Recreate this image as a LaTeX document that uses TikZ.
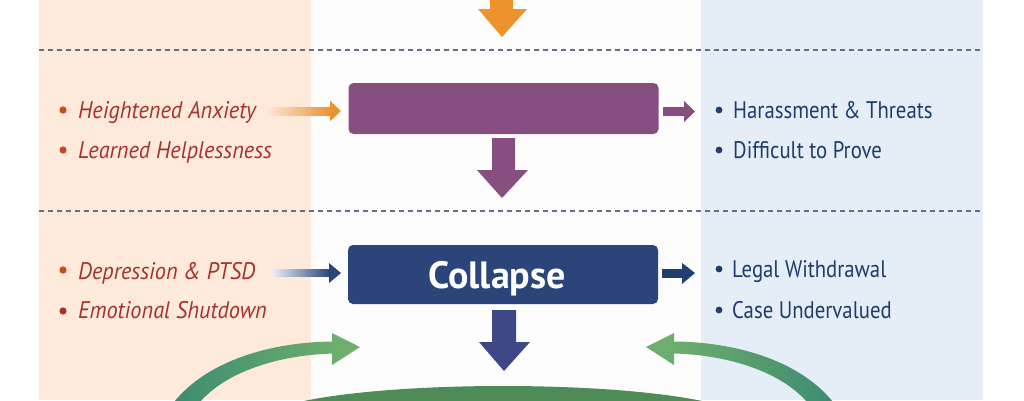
\documentclass[tikz,border=0pt]{standalone}
\usepackage{fontspec}
\setmainfont{PT Sans}
\newfontfamily\leftfont[FakeStretch=0.93]{PT Sans}
\newfontfamily\rightfont[FakeStretch=0.865]{PT Sans}
\usetikzlibrary{shapes.geometric}
\definecolor{peach}{HTML}{FDEADB}
\definecolor{paleblue}{HTML}{E5EDF6}
\definecolor{bgwhite}{HTML}{FDFDFD}
\definecolor{dashcol}{HTML}{5F7183}
\definecolor{orangeA}{HTML}{EE922E}
\definecolor{purpleA}{HTML}{874E80}
\definecolor{navyA}{HTML}{2B4479}
\definecolor{navyB}{HTML}{3E4886}
\definecolor{navyArrow}{HTML}{1F3F6E}
\definecolor{redtext}{HTML}{A8322A}
\definecolor{redbullet}{HTML}{C84A1C}
\definecolor{bluetext}{HTML}{1F3C6A}
\definecolor{greenDark}{HTML}{3C8C72}
\definecolor{greenLight}{HTML}{6DAD6D}
\definecolor{greenEll}{HTML}{4E8B57}
\begin{document}
\begin{tikzpicture}[x=1pt,y=-1pt,
  lefttext/.style={anchor=base west,inner sep=0pt,text=redtext,font=\leftfont\fontsize{24}{28}\selectfont\itshape},
  righttext/.style={anchor=base west,inner sep=0pt,text=bluetext,font=\rightfont\fontsize{24}{28}\selectfont},
  stagebox/.style={rounded corners=5pt,minimum width=310pt,inner sep=0pt,draw=none},
  sepline/.style={dashcol,line width=1.1pt,dash pattern=on 5pt off 4pt}]
\useasboundingbox (0,0) rectangle (1024,400);
\fill[white] (0,0) rectangle (1024,400);
\fill[bgwhite] (39,0) rectangle (983,400);
\fill[peach] (39,0) rectangle (311,400);
\fill[paleblue] (701,0) rectangle (983,400);
% separators
\draw[sepline] (39,50) -- (983,50);
\draw[sepline] (39,211) -- (983,211);
% top orange arrow
\fill[orangeA] (490,-2) -- (513,-2) -- (513,9) -- (527,9) -- (502,37) -- (478,9) -- (490,9) -- cycle;
% stage boxes
\node[stagebox,fill=purpleA,minimum height=51pt] (box1) at (503.5,108.5) {};
\node[stagebox,fill=navyA,minimum height=59pt,text=white,
  font=\fontsize{38}{42}\selectfont\bfseries,text height=27pt,text depth=0pt] (box2) at (503,274.5) {Collapse\hspace*{12pt}};
% down arrows
\fill[purpleA] (492,138) -- (515,138) -- (515,170) -- (528,170) -- (502,198) -- (477,170) -- (492,170) -- cycle;
\fill[navyB] (492,310) -- (516,310) -- (516,342) -- (530,342) -- (504,371) -- (479,342) -- (492,342) -- cycle;
% left texts row 1
\fill[redbullet] (63,110) circle (3.6pt);
\fill[redbullet] (63,150) circle (3.6pt);
\node[lefttext] (l1) at (78,118) {Heightened Anxiety};
\node[lefttext] (l2) at (78,158) {Learned Helplessness};
% left texts row 2
\fill[redbullet] (63,270) circle (3.6pt);
\fill[redtext] (63,311) circle (3.6pt);
\node[lefttext] (l3) at (78,279) {Depression \& PTSD};
\node[lefttext] (l4) at (78,318) {Emotional Shutdown};
% right texts
\fill[bluetext] (719,110) circle (3.4pt);
\fill[bluetext] (719,150) circle (3.4pt);
\node[righttext] (r1) at (733,118) {Harassment \& Threats};
\node[righttext] (r2) at (733,158) {Difficult to Prove};
\fill[bluetext] (719,269) circle (3.4pt);
\fill[bluetext] (719,310) circle (3.4pt);
\node[righttext] (r3) at (732,277.5) {Legal Withdrawal};
\node[righttext] (r4) at (732,318) {Case Undervalued};
% left gradient arrows
\shade[left color=peach,right color=orangeA] (265,107) rectangle (331,115);
\fill[orangeA] (330,100.7) -- (341,111) -- (330,121.3) -- cycle;
\shade[left color=paleblue,right color=navyA] (273,269.3) rectangle (330,276.5);
\fill[navyA] (329,263) -- (341,273) -- (329,283) -- cycle;
% right arrows
\fill[purpleA] (663,107) rectangle (684,116);
\fill[purpleA] (684,101) -- (695,111.5) -- (684,122) -- cycle;
\fill[navyArrow] (662,269) rectangle (682,277.7);
\fill[navyArrow] (682,263) -- (695,273) -- (682,284) -- cycle;
% green ellipse
\fill[greenEll] (503,420) ellipse [x radius=240pt,y radius=34pt];
% green curved arrows
\shade[left color=greenDark,right color=greenLight]
  (174,402) .. controls (208,360) and (272,342) .. (333,341.5)
  -- (333,353.5) .. controls (278,355) and (226,372) .. (200,402) -- cycle;
\fill[greenLight] (332,333) -- (360,347) -- (332,365) -- cycle;
\shade[right color=greenDark,left color=greenLight]
  (833,402) .. controls (799,360) and (735,342) .. (674,341.5)
  -- (674,353.5) .. controls (729,355) and (781,372) .. (807,402) -- cycle;
\fill[greenLight] (674,333) -- (646,347) -- (674,365) -- cycle;
\end{tikzpicture}
\end{document}
